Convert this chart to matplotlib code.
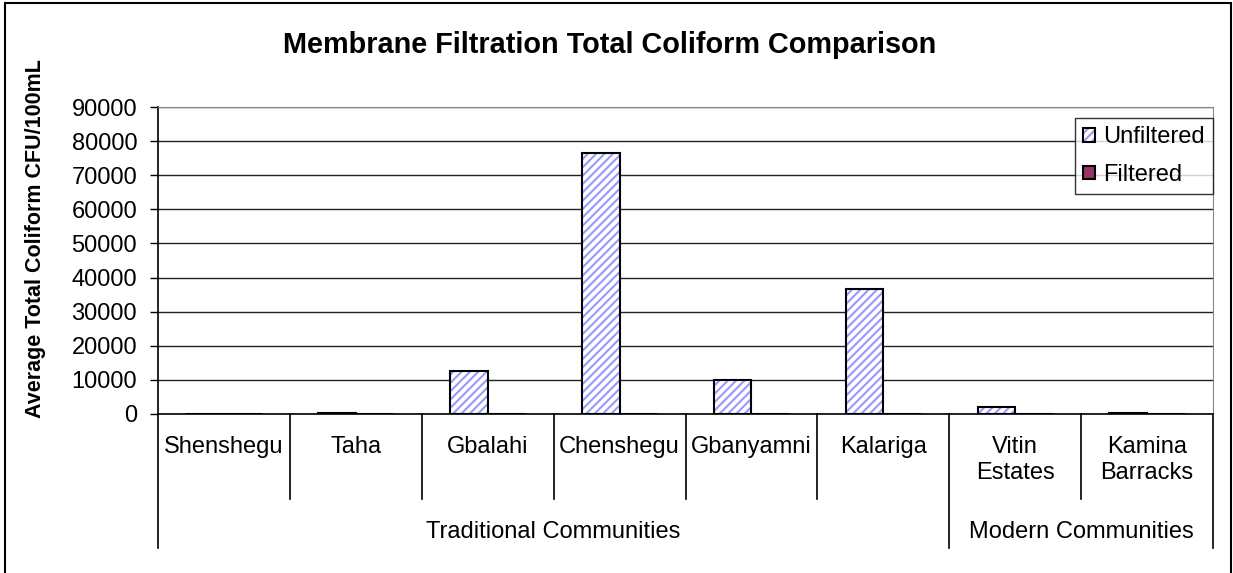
import matplotlib
matplotlib.use('Agg')
import matplotlib.pyplot as plt
from matplotlib.patches import Rectangle
from matplotlib.legend_handler import HandlerTuple
import numpy as np

plt.rcParams['font.family'] = ['Liberation Sans', 'DejaVu Sans']
plt.rcParams['hatch.linewidth'] = 1.5

# data
communities = ['Shenshegu', 'Taha', 'Gbalahi', 'Chenshegu', 'Gbanyamni',
               'Kalariga', 'Vitin\nEstates', 'Kamina\nBarracks']
unfiltered = [0, 300, 12700, 76400, 10000, 36700, 2100, 250]
filtered = [0, 0, 0, 0, 0, 0, 0, 0]
group_names = ['Traditional Communities', 'Modern Communities']
group_sizes = [6, 2]
yticks = [0, 10000, 20000, 30000, 40000, 50000, 60000, 70000, 80000, 90000]

W, H = 1233, 573
fig = plt.figure(figsize=(W / 100, H / 100), dpi=100)
ax = fig.add_axes([158 / W, (H - 414) / H, (1213 - 158) / W, (414 - 107) / H])

x = np.arange(len(communities))
bw = 0.285
# unfiltered: hatch layer + black outline layer
hb = ax.bar(x - bw / 2, unfiltered, bw, color='white', edgecolor='#9999ff',
            hatch='////', linewidth=0, zorder=3)
ob = ax.bar(x - bw / 2, unfiltered, bw, fill=False, edgecolor='black',
            linewidth=1.5, zorder=4)
fb = ax.bar(x + bw / 2, filtered, bw, color='#993366', edgecolor='black',
            linewidth=1.5, zorder=3)

ax.set_xlim(-0.5, len(communities) - 0.5)
ax.set_ylim(0, 90000)
ax.set_yticks(yticks)
ax.set_yticklabels([str(v) for v in yticks], fontsize=17)
ax.tick_params(axis='y', direction='out', length=6, width=1, pad=9)
ax.tick_params(axis='x', bottom=False, labelbottom=False)
ax.yaxis.grid(True, color='#222222', linewidth=1)
ax.set_axisbelow(True)
ax.spines['top'].set_color('#888888')
ax.spines['right'].set_color('#888888')
ax.spines['left'].set_linewidth(1.2)
ax.spines['bottom'].set_linewidth(1.2)

ax.set_ylabel('Average Total Coliform CFU/100mL', fontsize=15.5, fontweight='bold')
ax.yaxis.set_label_coords(-0.106, 0.57)

# category labels and separators below the axis
tr = ax.get_xaxis_transform()
for i, name in enumerate(communities):
    ax.text(i, -0.072, name, transform=tr, ha='center', va='top',
            fontsize=17, linespacing=1.2)
y_cat = -(499 - 414) / 307
y_grp = -(548 - 414) / 307
edges = np.cumsum([0] + group_sizes) - 0.5
for b in np.arange(len(communities) + 1) - 0.5:
    low = y_grp if b in edges else y_cat
    ax.plot([b, b], [0, low], transform=tr, color='black', linewidth=1.2,
            clip_on=False)
for gname, a, b in zip(group_names, edges[:-1], edges[1:]):
    ax.text((a + b) / 2, -(532 - 414) / 307, gname, transform=tr,
            ha='center', va='center', fontsize=17)

fig.text(610 / W, 1 - 45 / H, 'Membrane Filtration Total Coliform Comparison',
         ha='center', va='center', fontsize=20.8, fontweight='bold')

leg = ax.legend([(hb[0], ob[0]), fb[0]], ['Unfiltered', 'Filtered'],
                handler_map={tuple: HandlerTuple(ndivide=1)},
                loc='upper right', bbox_to_anchor=(1.0, (414 - 118) / 307),
                borderaxespad=0, fontsize=17, frameon=True, fancybox=False,
                handlelength=0.5, handleheight=0.5, handletextpad=0.35,
                labelspacing=0.65, borderpad=0.35)
leg.get_frame().set_edgecolor('black')
leg.get_frame().set_linewidth(1.0)

# outer chart frame
fig.patches.append(Rectangle((5 / W, -0.1), (1231 - 5) / W, 1.1 - 3 / H,
                             transform=fig.transFigure, fill=False,
                             edgecolor='black', linewidth=1.5))

fig.savefig('out.png', dpi=100)
